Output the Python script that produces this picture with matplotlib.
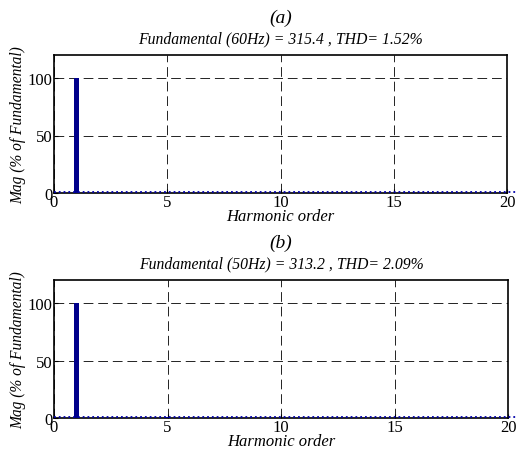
import numpy as np
import matplotlib.pyplot as plt

# harmonic spectra
orders = list(range(0, 21))
mag_a = [0.3, 100, 0.2, 0.3, 0.1, 0.4, 0.1, 0.3, 0.1, 0.1, 0.1, 0.2, 0.1, 0.1, 0.1, 0.1, 0.1, 0.1, 0.1, 0.1, 0.1]
mag_b = [0.4, 100, 0.3, 0.4, 0.1, 0.5, 0.1, 0.4, 0.1, 0.2, 0.1, 0.2, 0.1, 0.1, 0.1, 0.1, 0.1, 0.1, 0.1, 0.1, 0.1]
labels = ['(a)', '(b)']
titles = ['Fundamental (60Hz) = 315.4 , THD= 1.52%',
          'Fundamental (50Hz) = 313.2 , THD= 2.09%']
xticks = [0, 5, 10, 15, 20]
yticks = [0, 50, 100]

plt.rcParams['font.family'] = ['Liberation Serif', 'DejaVu Serif']

fig = plt.figure(figsize=(5.18, 4.52), dpi=100)
boxes = [[54/518, 1 - 194/452, 453/518, 138/452],
         [54/518, 1 - 419/452, 454/518, 138/452]]

for box, mag, lab, ttl in zip(boxes, [mag_a, mag_b], labels, titles):
    ax = fig.add_axes(box)
    ax.bar(orders, mag, width=0.2, color='#00008b', zorder=3)
    ax.plot([0, 20.5], [0.5, 0.5], ls=':', color='#0000aa', lw=1.3, clip_on=False, zorder=4)
    ax.set_xlim(0, 20)
    ax.set_ylim(0, 120)
    ax.set_xticks(xticks)
    ax.set_yticks(yticks)
    ax.tick_params(labelsize=12, direction='in', length=3, pad=1)
    ax.grid(True, ls=(0, (10, 5)), color='#222222', lw=0.7)
    ax.set_axisbelow(True)
    for s in ax.spines.values():
        s.set_linewidth(1.2)
    ax.set_xlabel('Harmonic order', fontsize=12, style='italic', labelpad=-2)
    ax.set_ylabel('Mag (% of Fundamental)', fontsize=11.2, style='italic', labelpad=1)
    ax.set_title(ttl, fontsize=11.3, style='italic', pad=9)
    ax.text(0.5, 1.27, lab, transform=ax.transAxes, ha='center', va='center',
            fontsize=14, style='italic')

fig.savefig('out.png', dpi=100)
